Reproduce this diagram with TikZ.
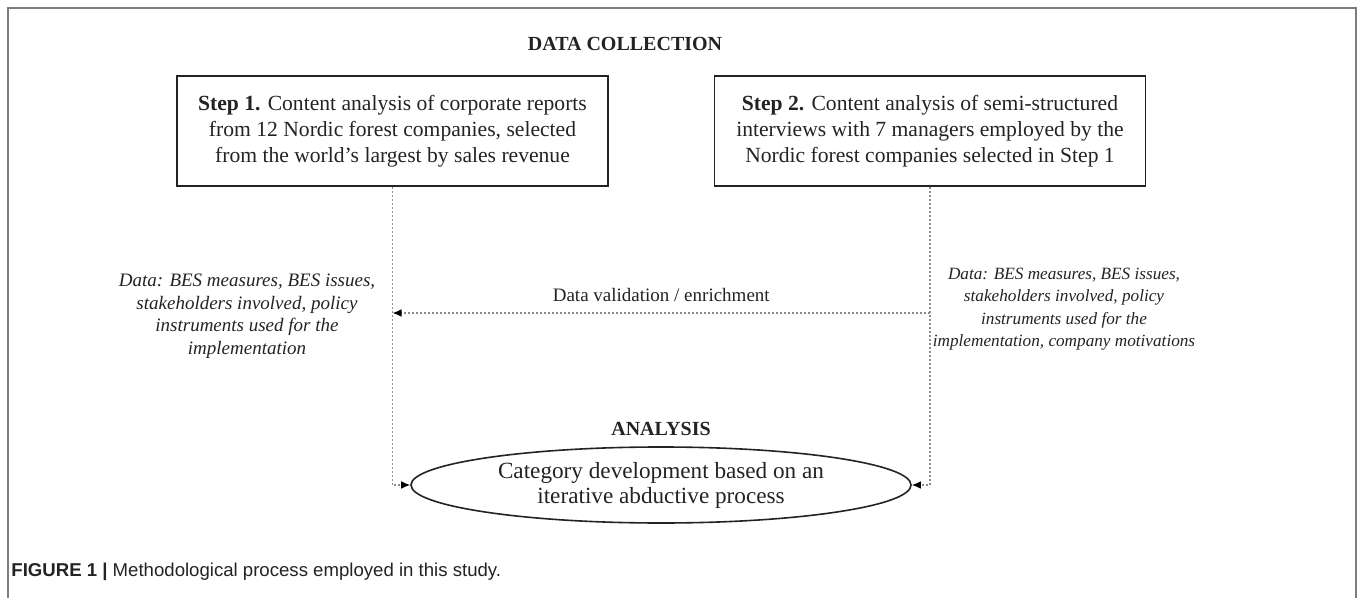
\documentclass[tikz,border=0pt]{standalone}
\usepackage{fontspec}
\setmainfont{Liberation Serif}
\newfontfamily\captionfont{Liberation Sans}
\usetikzlibrary{positioning,shapes.geometric,arrows.meta}
\definecolor{framegray}{RGB}{125,125,125}
\definecolor{linkgray}{RGB}{140,140,140}
\definecolor{inkgray}{RGB}{35,35,35}
\tikzstyle{method flow}=[
    x=0.5pt,y=-0.5pt,
    >={Latex[length=4.5pt,width=3.8pt,color=black]},
    every node/.style={
        align=center,
        text=inkgray,
    },
]
\tikzstyle{stepbox}=[draw=inkgray, line width=0.8pt, minimum width=215.5pt,
    minimum height=55pt, inner sep=0pt, font=\fontsize{10.8}{13}\selectfont]
\tikzstyle{heading}=[font=\fontsize{10}{12}\selectfont\bfseries]
\tikzstyle{datanote}=[font=\fontsize{9.5}{11.25}\selectfont\itshape]
\tikzstyle{datalink}=[linkgray, dash pattern=on 0.9pt off 1.1pt, line width=0.6pt]
\newcommand{\steptext}[2]{\textbf{Step #1.} #2}

\begin{document}
\begin{tikzpicture}[method flow]
        \useasboundingbox (0,0) rectangle (1358,598);
        \draw[framegray, line width=0.8pt] (8,598) -- (8,8) -- (1356,8) -- (1356,598);

        \node[heading] (collect) at (625,44) {DATA COLLECTION};
        \node[stepbox] (step1) at (392.5,131) {\steptext{1}{Content analysis of corporate reports\\from 12 Nordic forest companies, selected\\from the world’s largest by sales revenue}};
        \node[stepbox] (step2) at (930,131) {\steptext{2}{Content analysis of semi-structured\\interviews with 7 managers employed by the\\Nordic forest companies selected in Step 1}};

        \node[datanote] (note1) at (247,316) {Data: BES measures, BES issues,\\stakeholders involved, policy\\instruments used for the\\implementation};
        \node[datanote, font=\fontsize{8.6}{11.25}\selectfont\itshape] (note2) at (1064,309) {Data: BES measures, BES issues,\\stakeholders involved, policy\\instruments used for the\\implementation, company motivations};

        \node[heading] (analysis) at (661,429) {ANALYSIS};
        \node[ellipse, draw=inkgray, line width=0.8pt, minimum width=250pt, minimum height=38pt,
            inner sep=0pt, font=\fontsize{11.6}{12.5}\selectfont] (categ) at (661,485)
            {Category development based on an\\iterative abductive process};

        % dotted links
        \coordinate (bend1) at (step1.south |- categ.west);
        \coordinate (bend2) at (step2.south |- categ.east);
        \coordinate (split) at (step2.south |- 0,313);
        \coordinate (join) at (step1.south |- split);
        \draw[datalink, ->] (step1.south) -- (bend1) -- (categ.west);
        \draw[datalink, ->] (step2.south) -- (bend2) -- (categ.east);
        \draw[datalink, ->] (split) -- node[above=2pt, font=\fontsize{9.5}{11}\selectfont] (enrich) {Data validation / enrichment} (join);

        \node[anchor=west, inner sep=0pt, font=\captionfont\fontsize{9.3}{11}\selectfont] (caption) at (11,572)
            {\textbf{FIGURE 1 |} Methodological process employed in this study.};
\end{tikzpicture}
\end{document}
